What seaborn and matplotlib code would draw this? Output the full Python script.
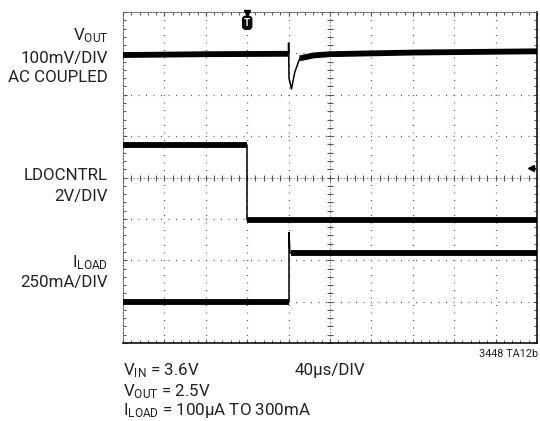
import numpy as np
import pandas as pd
import matplotlib
matplotlib.use("Agg")
import matplotlib.pyplot as plt
import seaborn as sns

# ---- data (scope divisions: x 0..10, y 0..8) ----
vout_x = [0.0, 2.0, 4.0, 4.0, 4.01, 4.07, 4.15, 4.27, 4.6, 5.0, 7.0, 10.0]
vout_y = [6.96, 6.98, 6.99, 7.25, 6.40, 6.14, 6.55, 6.88, 6.95, 6.98, 7.02, 7.05]
ldo_x = [0.0, 3.0, 3.0, 10.0]
ldo_y = [4.79, 4.79, 2.97, 2.97]
iload_x = [0.0, 4.01, 4.01, 4.03, 4.06, 10.0]
iload_y = [1.00, 1.00, 2.67, 2.20, 2.17, 2.17]
# index ranges of the noisy (thick) flat portions
vout_flat = [(0, 3), (7, 12)]
ldo_flat = [(0, 2), (2, 4)]
iload_flat = [(0, 2), (4, 6)]

trigger_x = 3.0
gnd_marker = (9.86, 4.24)

left_labels = [
    ("V$_{\\mathrm{OUT}}$", 40), ("100mV/DIV", 63), ("AC COUPLED", 82),
    ("LDOCNTRL", 180), ("2V/DIV", 201),
    ("I$_{\\mathrm{LOAD}}$", 267), ("250mA/DIV", 287),
]
bottom_labels = [
    ("V$_{\\mathrm{IN}}$ = 3.6V", 123, 375),
    ("V$_{\\mathrm{OUT}}$ = 2.5V", 123, 396),
    ("I$_{\\mathrm{LOAD}}$ = 100\u00b5A TO 300mA", 123, 415),
    ("40\u00b5s/DIV", 295, 375),
]
fig_id = "3448 TA12b"

# ---- style ----
sns.set_theme(style="white")
FONT = ["Roboto", "DejaVu Sans"]
plt.rcParams["font.family"] = FONT
plt.rcParams["mathtext.fontset"] = "custom"
plt.rcParams["mathtext.rm"] = "Roboto"
plt.rcParams["mathtext.it"] = "Roboto"
plt.rcParams["mathtext.bf"] = "Roboto:bold"

W, H = 540, 421
fig = plt.figure(figsize=(W / 100, H / 100), dpi=100)
ax = fig.add_axes([123 / W, 1 - 343 / H, (537 - 123) / W, (343 - 12) / H])
ax.set_xlim(0, 10)
ax.set_ylim(0, 8)

# grid: dotted major division lines
for gx in range(1, 10):
    if gx != 5:
        ax.axvline(gx, color="#555555", lw=0.9, ls=(0, (0.8, 5.2)), zorder=1)
for gy in range(1, 8):
    if gy != 4:
        ax.axhline(gy, color="#555555", lw=0.9, ls=(0, (0.8, 5.2)), zorder=1)
# centre cross with small ticks
ax.axvline(5, color="#777777", lw=0.6, ls=(0, (2, 2)), zorder=1)
ax.axhline(4, color="#777777", lw=0.6, ls=(0, (2, 2)), zorder=1)
minor = np.arange(0, 10.01, 0.2)
ax.plot(minor, np.full_like(minor, 4.0), ls="none", marker="|", ms=4,
        mew=0.8, color="#555555", zorder=1)
minor_y = np.arange(0, 8.01, 0.2)
ax.plot(np.full_like(minor_y, 5.0), minor_y, ls="none", marker="_", ms=4,
        mew=0.8, color="#555555", zorder=1)

ax.xaxis.set_minor_locator(matplotlib.ticker.MultipleLocator(0.2))
ax.yaxis.set_minor_locator(matplotlib.ticker.MultipleLocator(0.2))
ax.xaxis.set_major_locator(matplotlib.ticker.MultipleLocator(1))
ax.yaxis.set_major_locator(matplotlib.ticker.MultipleLocator(1))
ax.tick_params(which="both", direction="in", top=True, right=True, bottom=True,
               left=True, labelbottom=False, labelleft=False, color="#555555")
ax.tick_params(which="major", length=3, width=0.8)
ax.tick_params(which="minor", length=2.5, width=0.7)
for side in ["top", "left"]:
    ax.spines[side].set_color("#666666")
    ax.spines[side].set_linestyle((0, (1.5, 1.5)))
    ax.spines[side].set_linewidth(0.8)
for side in ["right", "bottom"]:
    ax.spines[side].set_color("#111111")
    ax.spines[side].set_linewidth(1.2)


def draw_trace(xs, ys, flats):
    df = pd.DataFrame({"x": xs, "y": ys})
    sns.lineplot(data=df, x="x", y="y", ax=ax, sort=False, estimator=None,
                 color="black", lw=1.1, zorder=3)
    for a, b in flats:
        sub = df.iloc[a:b]
        sns.lineplot(data=sub, x="x", y="y", ax=ax, sort=False, estimator=None,
                     color="black", lw=4.2, zorder=3, solid_capstyle="butt")


draw_trace(vout_x, vout_y, vout_flat)
draw_trace(ldo_x, ldo_y, ldo_flat)
draw_trace(iload_x, iload_y, iload_flat)
ax.set_xlabel("")
ax.set_ylabel("")

# trigger marker
ax.plot([trigger_x], [7.97], marker="v", ms=5, color="black", clip_on=False, zorder=5)
ax.text(trigger_x, 7.74, "T", ha="center", va="center", color="white",
        fontsize=7, fontweight="bold",
        bbox=dict(boxstyle="round,pad=0.15,rounding_size=0.3", fc="black", ec="black"),
        zorder=6)
# channel ground marker at right
ax.plot([gnd_marker[0]], [gnd_marker[1]], marker="<", ms=5, color="black", zorder=5)
ax.plot([gnd_marker[0], gnd_marker[0] + 0.1], [gnd_marker[1]] * 2, color="black",
        lw=0.8, zorder=5)

# labels
FS = 12.2
for txt, yb in left_labels:
    fig.text(108 / W, 1 - yb / H, txt, ha="right", va="baseline", fontsize=FS,
             color="#222222")
for txt, xl, yb in bottom_labels:
    fig.text(xl / W, 1 - yb / H, txt, ha="left", va="baseline", fontsize=FS,
             color="#222222")
fig.text(538 / W, 1 - 357 / H, fig_id, ha="right", va="baseline", fontsize=7.8,
         color="#222222")

fig.savefig("out.png", dpi=100)
